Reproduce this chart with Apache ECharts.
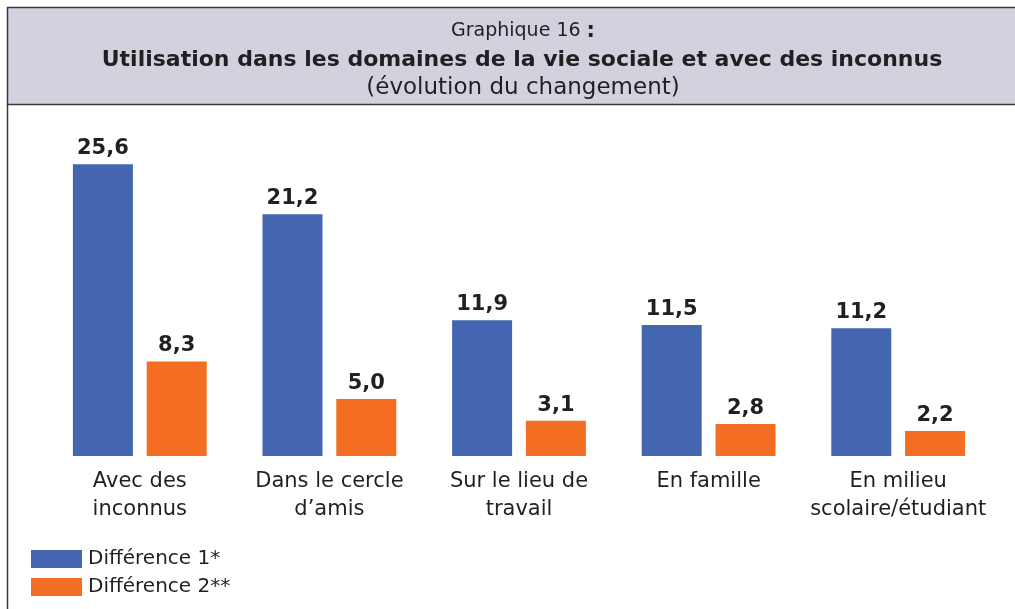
<!DOCTYPE html>
<html>
<head>
<meta charset="utf-8">
<script src="https://cdn.jsdelivr.net/npm/echarts@6/dist/echarts.min.js"></script>
<style>
    html, body { margin: 0; padding: 0; background: #ffffff; }
    #main { width: 1015px; height: 609px; }
</style>
</head>
<body>
<div id="main"></div>
<script>
    // données du graphique
    const categories = ['Avec des\ninconnus', 'Dans le cercle\nd\u2019amis', 'Sur le lieu de\ntravail', 'En famille', 'En milieu\nscolaire/étudiant'];
    const diff1 = [25.6, 21.2, 11.9, 11.5, 11.2];
    const diff2 = [8.3, 5.0, 3.1, 2.8, 2.2];
    const seriesNames = ['Différence 1*', 'Différence 2**'];

    const blue = '#4465b0';
    const orange = '#f36d23';
    const ink = '#231f20';
    const font = '"DejaVu Sans", Inter, sans-serif';

    const fmt = p => p.value.toFixed(1).replace('.', ',');

    const chart = echarts.init(document.getElementById('main'));

    const option = {
        animation: false,
        backgroundColor: '#ffffff',
        textStyle: { fontFamily: font, color: ink },
        graphic: [
            // bandeau du titre
            {
                type: 'rect',
                shape: { x: 7.5, y: 7.5, width: 1015, height: 97 },
                style: { fill: '#d3d1de', stroke: '#3a3a3a', lineWidth: 1.5 },
                z: -1
            },
            // bord gauche
            {
                type: 'line',
                shape: { x1: 7.5, y1: 104, x2: 7.5, y2: 609 },
                style: { stroke: '#3a3a3a', lineWidth: 1.5 }
            }
        ],
        title: [
            {
                text: 'Graphique 16 {b|:}',
                left: 518, top: 16, textAlign: 'center',
                textStyle: {
                    fontFamily: font, fontSize: 19, fontWeight: 'normal', color: ink,
                    rich: { b: { fontFamily: font, fontSize: 21, fontWeight: 'bold', color: ink } }
                }
            },
            {
                text: 'Utilisation dans les domaines de la vie sociale et avec des inconnus',
                left: 517, top: 44, textAlign: 'center',
                textStyle: { fontFamily: font, fontSize: 22, fontWeight: 'bold', color: ink }
            },
            {
                text: '(évolution du changement)',
                left: 518, top: 72, textAlign: 'center',
                textStyle: { fontFamily: font, fontSize: 23, fontWeight: 'normal', color: ink }
            }
        ],
        legend: {
            orient: 'vertical',
            left: 26, top: 544,
            itemWidth: 51, itemHeight: 18, itemGap: 8,
            icon: 'rect',
            data: seriesNames,
            textStyle: { fontFamily: font, fontSize: 20, color: ink, padding: [0, 0, 0, 1] }
        },
        grid: { left: 45, right: 22, top: 114, bottom: 153 },
        xAxis: {
            type: 'category',
            data: categories,
            axisLine: { show: false },
            axisTick: { show: false },
            axisLabel: {
                fontFamily: font, fontSize: 21, color: ink,
                lineHeight: 28, margin: 12, interval: 0
            }
        },
        yAxis: {
            type: 'value',
            min: 0, max: 30,
            show: false
        },
        series: [
            {
                name: seriesNames[0],
                type: 'bar',
                data: diff1,
                barWidth: 60,
                barGap: '23%',
                itemStyle: { color: blue },
                label: {
                    show: true, position: 'top', distance: 5,
                    formatter: fmt,
                    fontFamily: font, fontSize: 21, fontWeight: 'bold', color: ink
                }
            },
            {
                name: seriesNames[1],
                type: 'bar',
                data: diff2,
                barWidth: 60,
                itemStyle: { color: orange },
                label: {
                    show: true, position: 'top', distance: 5,
                    formatter: fmt,
                    fontFamily: font, fontSize: 21, fontWeight: 'bold', color: ink
                }
            }
        ]
    };

    chart.setOption(option);
</script>
</body>
</html>
